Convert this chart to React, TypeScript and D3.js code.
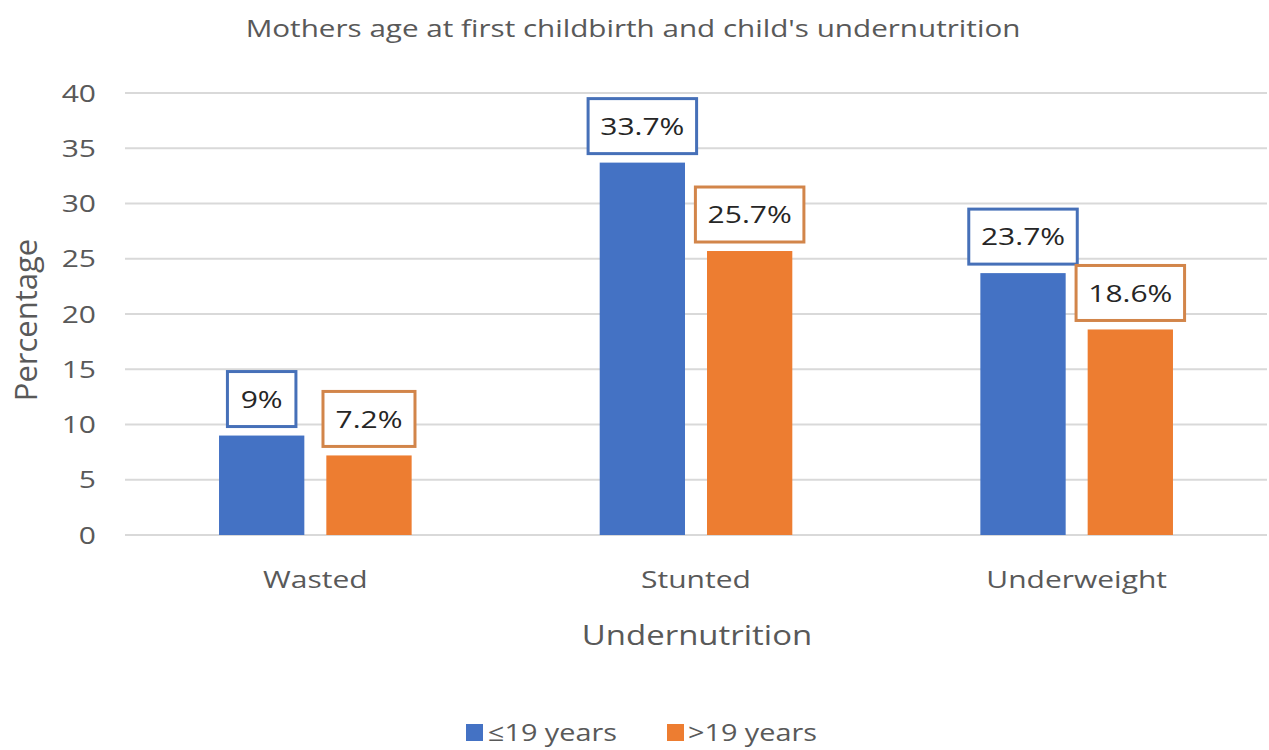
import React from "react";
import * as d3 from "d3";

const categories = ["Wasted", "Stunted", "Underweight"];
const seriesNames = ["≤19 years", ">19 years"];
const youngValues = [9, 33.7, 23.7];
const olderValues = [7.2, 25.7, 18.6];
const valueLabels = [["9%", "33.7%", "23.7%"], ["7.2%", "25.7%", "18.6%"]];
const yTicks = [0, 5, 10, 15, 20, 25, 30, 35, 40];

const W = 1269;
const H = 750;
const FONT = "'Open Sans', 'DejaVu Sans', sans-serif";
const colors = ["#4472C4", "#ED7D31"];
const boxColors = ["#4670B8", "#D2854A"];
const grey = "#595959";

function T(props: { x: number; y: number; s?: number; anchor?: string; size: number; fill?: string; dy?: string; children: React.ReactNode }) {
  const { x, y, s = 1.25, anchor = "middle", size, fill = grey, dy, children } = props;
  return (
    <text transform={`translate(${x},${y}) scale(${s},1)`} textAnchor={anchor} fontSize={size} fill={fill} dy={dy}>
      {children}
    </text>
  );
}

function labelWidth(label: string) {
  let w = 0;
  for (const ch of label) {
    if (ch === ".") w += 7;
    else if (ch === "%") w += 24;
    else w += 16.5;
  }
  return w;
}

export default function App() {
  const left = 125, right = 1267, top = 93, bottom = 535;
  const x0 = d3.scaleBand<string>().domain(categories).range([left, right]).paddingInner(0.494).paddingOuter(0.247);
  const x1 = d3.scaleBand<string>().domain(seriesNames).range([0, x0.bandwidth()]).paddingInner(0.205).paddingOuter(0);
  const y = d3.scaleLinear().domain([0, 40]).range([bottom, top]);
  const series = [youngValues, olderValues];

  return (
    <svg width={W} height={H} style={{ position: "absolute", left: 0, top: 0, background: "#fff" }} fontFamily={FONT}>
      <rect x={0} y={0} width={W} height={H} fill="#fff" />
      <T x={633} y={37} size={24} s={1.235}>Mothers age at first childbirth and child's undernutrition</T>
      {yTicks.map((t) => (
        <g key={t}>
          <line x1={left} x2={right} y1={y(t)} y2={y(t)} stroke="#D9D9D9" strokeWidth={2} />
          <T x={96} y={y(t)} dy="0.36em" anchor="end" size={24}>{t}</T>
        </g>
      ))}
      <text transform={`translate(37,${320}) rotate(-90)`} textAnchor="middle" fontSize={31} fill={grey}>Percentage</text>
      {categories.map((c, ci) => (
        <g key={c} transform={`translate(${x0(c)},0)`}>
          {series.map((vals, si) => {
            const bx = x1(seriesNames[si])!;
            const bw = x1.bandwidth();
            const v = vals[ci];
            const label = valueLabels[si][ci];
            const tw = labelWidth(label);
            const bh = 55;
            const boxBottom = y(v) - 9;
            return (
              <g key={si}>
                <rect x={bx} y={y(v)} width={bw} height={bottom - y(v)} fill={colors[si]} />
                <rect x={bx + bw / 2 - tw / 2 - 14} y={boxBottom - bh} width={tw + 28} height={bh} fill="#fff" stroke={boxColors[si]} strokeWidth={3} />
                <T x={bx + bw / 2} y={boxBottom - bh / 2} dy="0.36em" size={24} fill="#262626">{label}</T>
              </g>
            );
          })}
          <T x={x0.bandwidth() / 2} y={588} size={24}>{c}</T>
        </g>
      ))}
      <T x={697} y={645} size={27} s={1.22}>Undernutrition</T>
      <g>
        <rect x={466} y={724} width={17} height={17} fill={colors[0]} />
        <T x={488} y={733} dy="0.35em" anchor="start" size={24} s={1.2}>{seriesNames[0]}</T>
        <rect x={667} y={724} width={17} height={17} fill={colors[1]} />
        <T x={688} y={733} dy="0.35em" anchor="start" size={24} s={1.2}>{seriesNames[1]}</T>
      </g>
    </svg>
  );
}
